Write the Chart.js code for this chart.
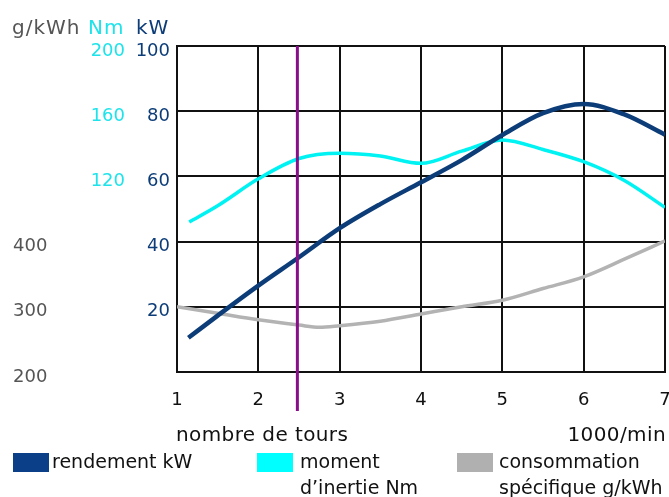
<!DOCTYPE html>
<html>
<head>
<meta charset="utf-8">
<script src="https://cdn.jsdelivr.net/npm/chart.js@4/dist/chart.umd.min.js"></script>
<style>
  html, body { margin: 0; padding: 0; background: #fff; }
  #wrap { width: 669px; height: 497px; position: relative; }
</style>
</head>
<body>
<div id="wrap"><canvas id="c" width="669" height="497"></canvas></div>
<script>
// ---- data ----
const kwRpm    = [1.14, 1.5, 2, 2.5, 3, 3.5, 4, 4.5, 5, 5.5, 6, 6.5, 7];
const kwValues = [10.5, 17.3, 26.5, 35.2, 44.1, 51.5, 58.2, 65, 72.7, 79.4, 82.2, 79, 72.8];

const nmRpm    = [1.15, 1.5, 2, 2.5, 3, 3.5, 4, 4.5, 5, 5.5, 6, 6.5, 7];
const nmValues = [92, 102, 118.5, 131, 134.2, 132.5, 128, 135.5, 142.3, 136.5, 129, 117.5, 101];

const gRpm     = [1, 1.5, 2, 2.5, 2.75, 3, 3.5, 4, 4.5, 5, 5.5, 6, 6.5, 7];
const gValues  = [300, 290, 280, 272, 268.5, 271, 278, 289, 300, 310, 328, 346, 373, 401];

const markerRpm = 2.48;

const xTicks  = [1, 2, 3, 4, 5, 6, 7];
const kwTicks = [20, 40, 60, 80, 100];
const nmTicks = [120, 160, 200];
const gTicks  = [200, 300, 400];

const unitLabels   = ['g/kWh', 'Nm', 'kW'];
const xTitleLeft   = 'nombre de tours';
const xTitleRight  = '1000/min';
const legendLabels = [['rendement kW'], ['moment', 'd’inertie Nm'], ['consommation', 'spécifique g/kWh']];

// ---- styles ----
const BLUE = '#0d3d78', CYAN = '#00f2f2', GRAY = '#b3b3b3', PURPLE = '#870f87';
const LEG_BLUE = '#0b4088', LEG_CYAN = '#00ffff', LEG_GRAY = '#b0b0b0';
const FONT = 'DejaVu Sans';

const pts = (xs, ys) => xs.map((x, i) => ({ x: x, y: ys[i] }));

const overlay = {
  id: 'overlay',
  afterDatasetsDraw(chart) {
    const ctx = chart.ctx, xs = chart.scales.x, area = chart.chartArea;
    const px = xs.getPixelForValue(markerRpm);
    ctx.save();
    ctx.strokeStyle = PURPLE;
    ctx.lineWidth = 3;
    ctx.beginPath();
    ctx.moveTo(px, area.top);
    ctx.lineTo(px, 411);
    ctx.stroke();
    ctx.restore();
  },
  afterDraw(chart) {
    const ctx = chart.ctx;
    ctx.save();
    ctx.textBaseline = 'alphabetic';
    ctx.textAlign = 'left';
    // unit labels
    ctx.font = '20px "' + FONT + '"';
    ctx.letterSpacing = '1px';
    const ucol = ['#555555', '#1de3ea', BLUE];
    const ux = [12, 88, 136];
    unitLabels.forEach((t, i) => { ctx.fillStyle = ucol[i]; ctx.fillText(t, ux[i], 34); });
    // x titles
    ctx.letterSpacing = '0.4px';
    ctx.font = '20px "' + FONT + '"';
    ctx.fillStyle = '#111';
    ctx.fillText(xTitleLeft, 176, 441);
    ctx.textAlign = 'right';
    ctx.fillText(xTitleRight, 666, 441);
    // legend
    ctx.textAlign = 'left';
    ctx.letterSpacing = '0px';
    ctx.font = '19px "' + FONT + '"';
    const boxX = [13, 257, 457], txtX = [52, 300, 499], cols = [LEG_BLUE, LEG_CYAN, LEG_GRAY];
    legendLabels.forEach((lines, i) => {
      ctx.fillStyle = cols[i];
      ctx.fillRect(boxX[i], 453, 36, 19);
      ctx.fillStyle = '#111';
      lines.forEach((l, j) => ctx.fillText(l, txtX[i], 468 + j * 26));
    });
    ctx.restore();
  }
};

new Chart(document.getElementById('c'), {
  type: 'line',
  data: {
    datasets: [
      { label: 'rendement kW', data: pts(kwRpm, kwValues), yAxisID: 'y',
        borderColor: BLUE, borderWidth: 4.5, pointRadius: 0, fill: false, cubicInterpolationMode: 'monotone' },
      { label: 'moment d’inertie Nm', data: pts(nmRpm, nmValues), yAxisID: 'yNm',
        borderColor: CYAN, borderWidth: 3.5, pointRadius: 0, fill: false, cubicInterpolationMode: 'monotone' },
      { label: 'consommation spécifique g/kWh', data: pts(gRpm, gValues), yAxisID: 'yG',
        borderColor: GRAY, borderWidth: 3.5, pointRadius: 0, fill: false, cubicInterpolationMode: 'monotone' }
    ]
  },
  options: {
    responsive: false,
    animation: false,
    events: [],
    layout: { padding: { left: 13, right: 4, top: 46, bottom: 85 } },
    plugins: { legend: { display: false }, tooltip: { enabled: false } },
    scales: {
      x: {
        type: 'linear', position: 'bottom', min: xTicks[0], max: xTicks[xTicks.length - 1],
        afterBuildTicks: s => { s.ticks = xTicks.map(v => ({ value: v })); },
        ticks: { color: '#111', font: { family: FONT, size: 18 }, padding: 0, maxRotation: 0 },
        grid: { color: '#111', lineWidth: 2, drawTicks: true, tickLength: 18, tickColor: 'rgba(0,0,0,0)' },
        border: { color: '#111', width: 2 },
        afterFit: s => { s.height = 40; s.paddingLeft = 0; s.paddingRight = 0; }
      },
      y: {
        position: 'left', weight: 0, min: 0, max: 100,
        afterBuildTicks: s => { s.ticks = [0].concat(kwTicks).map(v => ({ value: v })); },
        ticks: { color: BLUE, font: { family: FONT, size: 18 }, padding: 7, labelOffset: 5,
                 callback: v => kwTicks.includes(v) ? String(v) : '' },
        grid: { color: '#111', lineWidth: 2, drawTicks: false },
        border: { color: '#111', width: 2 },
        afterFit: s => { s.width = 45; }
      },
      yNm: {
        position: 'left', weight: 1, min: 0, max: 200,
        afterBuildTicks: s => { s.ticks = nmTicks.map(v => ({ value: v })); },
        ticks: { color: '#1de3ea', font: { family: FONT, size: 18 }, padding: 7, labelOffset: 5 },
        grid: { display: false, drawTicks: false },
        border: { display: false },
        afterFit: s => { s.width = 47; }
      },
      yG: {
        position: 'left', weight: 2, min: 200, max: 700,
        afterBuildTicks: s => { s.ticks = gTicks.map(v => ({ value: v })); },
        ticks: { color: '#555555', font: { family: FONT, size: 18 }, padding: 7, labelOffset: 5, crossAlign: 'far' },
        grid: { display: false, drawTicks: false },
        border: { display: false },
        afterFit: s => { s.width = 72; }
      }
    }
  },
  plugins: [overlay]
});
</script>
</body>
</html>
